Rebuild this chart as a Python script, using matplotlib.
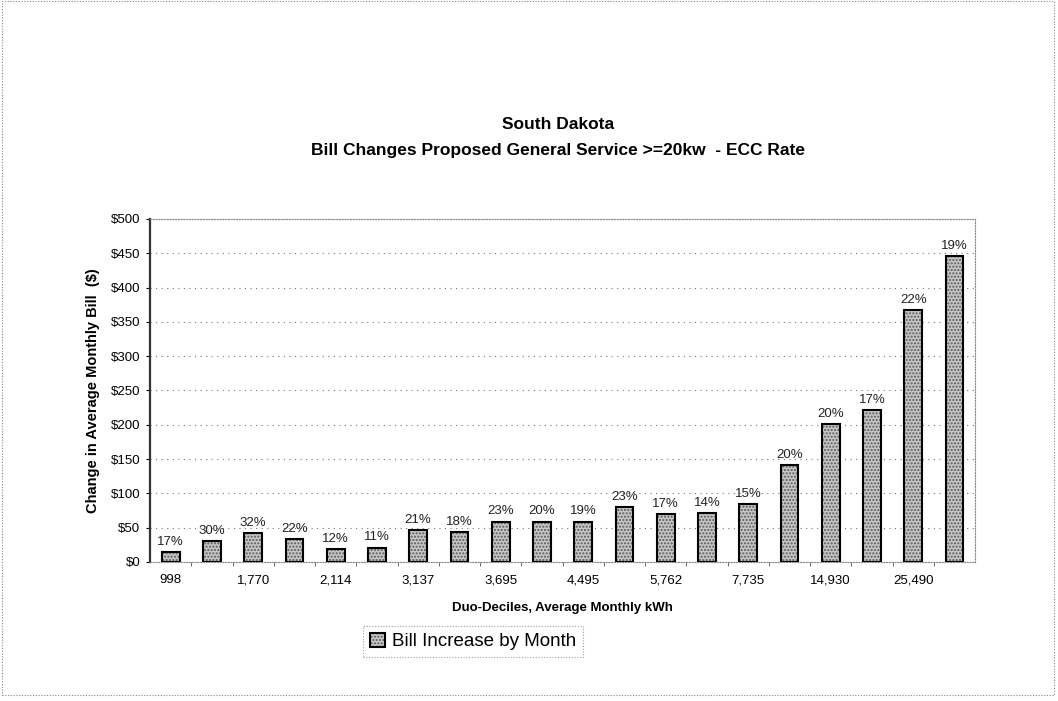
import matplotlib.pyplot as plt
import numpy as np
from matplotlib.patches import Rectangle

plt.rcParams['font.family'] = ['Liberation Sans', 'DejaVu Sans']

# average bill change per duo-decile ($) and the percent increase shown above each bar
bill_change = [15, 31, 42, 34, 19, 21, 47, 44, 59, 59, 59, 80, 70, 71, 84, 141, 201, 221, 367, 446]
pct_increase = ['17%', '30%', '32%', '22%', '12%', '11%', '21%', '18%', '23%', '20%',
                '19%', '23%', '17%', '14%', '15%', '20%', '20%', '17%', '22%', '19%']
# only every other category carries a kWh label
kwh_labels = ['998', '', '1,770', '', '2,114', '', '3,137', '', '3,695', '',
              '4,495', '', '5,762', '', '7,735', '', '14,930', '', '25,490', '']

x = np.arange(len(bill_change))

fig = plt.figure(figsize=(10.58, 7.01), dpi=100)
ax = fig.add_axes([0.1418, 0.1983, 0.7798, 0.4893])

bars = ax.bar(x, bill_change, width=0.43, color='#c6c6c6', edgecolor='black',
              linewidth=1.5, hatch='.....', zorder=3, label='Bill Increase by Month')
for b in bars:
    b._hatch_color = (0.35, 0.35, 0.35, 1.0)

for xi, v, p in zip(x, bill_change, pct_increase):
    ax.text(xi, v + 6, p, ha='center', va='bottom', fontsize=9.5, color='#222222')

ax.set_xlim(-0.5, len(x) - 0.5)
ax.set_ylim(0, 500)
ax.set_yticks(np.arange(0, 501, 50))
ax.set_yticklabels(['$%d' % v for v in range(0, 501, 50)], fontsize=9.5)
ax.yaxis.grid(True, linestyle=(0, (1, 4)), color='#777777', linewidth=0.8, zorder=0)

ax.set_xticks(x)
ax.set_xticklabels(kwh_labels, fontsize=9.5)
ax.tick_params(axis='x', length=0, pad=9)
ax.set_xticks(x[:-1] + 0.5, minor=True)
ax.tick_params(axis='x', which='minor', length=3, color='#555555')
ax.tick_params(axis='y', length=3, pad=4)

for side in ['top', 'right', 'bottom']:
    ax.spines[side].set_linestyle((0, (1, 1.5)))
    ax.spines[side].set_color('#888888')
    ax.spines[side].set_linewidth(0.8)
ax.spines['left'].set_linewidth(1.6)
ax.spines['left'].set_color('#333333')

ax.set_ylabel('Change in Average Monthly Bill  ($)', fontsize=10.5, fontweight='bold', labelpad=8)
fig.text(0.532, 0.133, 'Duo-Deciles, Average Monthly kWh', ha='center', va='center',
         fontsize=9.5, fontweight='bold')

fig.text(0.527, 0.822, 'South Dakota', ha='center', va='center', fontsize=12.5, fontweight='bold')
fig.text(0.527, 0.786, 'Bill Changes Proposed General Service >=20kw  - ECC Rate',
         ha='center', va='center', fontsize=12.5, fontweight='bold')

leg = fig.legend(loc='center', bbox_to_anchor=(0.447, 0.085), fontsize=13.5,
                 frameon=True, fancybox=False, handlelength=0.8, handleheight=0.8,
                 handletextpad=0.4, borderpad=0.35)
leg.get_frame().set_edgecolor('#888888')
leg.get_frame().set_linestyle((0, (1, 1.5)))
leg.get_frame().set_linewidth(0.8)

# dotted border round the whole chart area
fig.patches.append(Rectangle((0.002, 0.008), 0.994, 0.99, transform=fig.transFigure,
                             fill=False, edgecolor='#888888', linewidth=0.8,
                             linestyle=(0, (1, 1.5))))

fig.savefig('out.png', dpi=100)
